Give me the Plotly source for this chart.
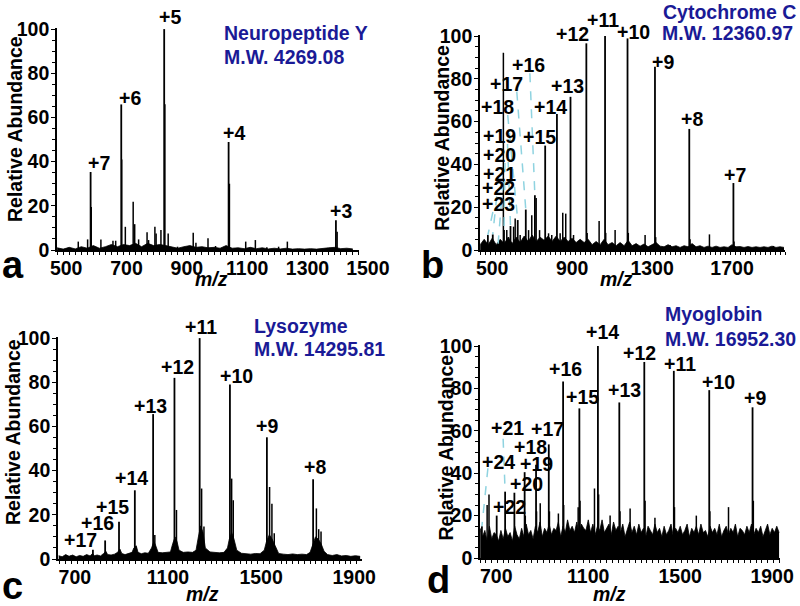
import plotly.graph_objects as go

FONT = "Liberation Sans, Arial, sans-serif"
W, H = 800, 606
BLUE = "#1a1a96"
DASH_COLOR = "#8fd3e0"

# ---------------- data ----------------
Y_TICKS = [0, 20, 40, 60, 80, 100]

# Panel a : Neuropeptide Y
A_NAME = "Neuropeptide Y"
A_MW = "M.W. 4269.08"
A_XTICKS = [500, 700, 900, 1100, 1300, 1500]
A_ION_MZ = [610.9, 712.5, 854.8, 1068.3, 1424.0]
A_ION_INT = [35.3, 65.9, 100.0, 48.9, 13.5]
A_ION_LABEL = ["+7", "+6", "+5", "+4", "+3"]
A_MINOR_MZ = [570, 601, 613, 645, 685, 694, 714, 726, 752, 757,
              770, 798, 803, 824, 828, 844, 857, 868, 899, 951,
              960, 1000, 1025, 1071, 1125, 1157, 1195, 1234, 1263, 1428]
A_MINOR_INT = [3.8, 4.8, 19.5, 4.8, 4.2, 4.2, 41.0, 10.5, 21.8, 11.7,
               4.8, 8.0, 4.5, 10.5, 7.5, 9.0, 66.0, 7.5, 1.5, 7.8,
               3.3, 5.3, 1.8, 30.0, 3.8, 4.5, 1.2, 1.5, 3.8, 8.3]
A_NOISE_MZ = [500, 520, 540, 560, 580, 600, 620, 640, 660, 680,
              700, 720, 740, 760, 780, 800, 820, 840, 860, 880,
              900, 920, 940, 960, 980, 1000, 1020, 1040, 1060, 1080,
              1100, 1120, 1140, 1160, 1180, 1200, 1220, 1240, 1260, 1280,
              1300, 1320, 1340, 1360, 1380, 1400, 1420, 1440, 1460, 1480]
A_NOISE_INT = [1.0, 0.4, 1.2, 0.5, 1.5, 0.8, 2.0, 0.8, 1.5, 2.5,
               1.5, 2.5, 2.0, 3.0, 1.5, 3.0, 2.0, 2.5, 2.0, 1.5,
               0.8, 1.5, 2.0, 1.2, 1.5, 1.0, 1.2, 0.8, 2.0, 0.8,
               1.0, 0.6, 1.2, 0.6, 1.0, 0.5, 0.8, 0.5, 0.8, 0.4,
               0.6, 0.4, 0.6, 0.4, 0.8, 1.0, 1.2, 0.6, 0.8, 0.5]

# Panel b : Cytochrome C
B_NAME = "Cytochrome C"
B_MW = "M.W. 12360.97"
B_XTICKS = [500, 900, 1300, 1700]
B_ION_MZ = [1766.9, 1546.1, 1374.4, 1237.1, 1124.7, 1031.1, 951.8, 883.9, 825.1,
            773.6, 728.1, 687.7, 651.6, 619.1, 589.6, 562.9, 538.4]
B_ION_INT = [31.3, 56.6, 85.7, 98.9, 100.0, 96.6, 71.6, 63.6, 48.8,
             25.6, 18.9, 14.0, 11.2, 9.3, 3.0, 7.3, 7.0]
B_ION_LABEL = ["+7", "+8", "+9", "+10", "+11", "+12", "+13", "+14", "+15",
               "+16", "+17", "+18", "+19", "+20", "+21", "+22", "+23"]
B_MINOR_MZ = [616.0, 633, 642, 667, 675, 700, 742, 758, 780, 797,
              842, 858, 900, 913, 928, 967, 1000, 1035, 1095, 1128,
              1175, 1241, 1325, 1378, 1450, 1550, 1647, 1770, 1967]
B_MINOR_INT = [92.2, 9.3, 6.0, 10.9, 14.7, 7.0, 9.3, 16.3, 24.3, 9.3,
               7.8, 7.0, 7.8, 17.4, 17.0, 7.0, 4.7, 8.0, 13.6, 8.0,
               9.3, 8.0, 7.0, 6.0, 2.3, 5.0, 7.3, 4.0, 1.9]
B_NOISE_MZ = [500, 520, 540, 560, 580, 600, 620, 640, 660, 680,
              700, 720, 740, 760, 780, 800, 820, 840, 860, 880,
              900, 920, 940, 960, 980, 1000, 1020, 1040, 1060, 1080,
              1100, 1120, 1140, 1160, 1180, 1200, 1220, 1240, 1260, 1280,
              1300, 1320, 1340, 1360, 1380, 1400, 1420, 1440, 1460, 1480,
              1500, 1520, 1540, 1560, 1580, 1600, 1620, 1640, 1660, 1680,
              1700, 1720, 1740, 1760, 1780, 1800, 1820, 1840, 1860, 1880,
              1900, 1920, 1940, 1960, 1980, 2000, 2020]
B_NOISE_INT = [2.5, 5.0, 2.5, 5.5, 2.5, 5.0, 3.0, 6.0, 3.0, 6.0,
               3.5, 6.5, 4.0, 7.0, 4.0, 6.0, 4.5, 6.5, 4.0, 6.5,
               4.0, 6.0, 4.0, 5.5, 3.5, 5.0, 3.5, 5.0, 2.5, 4.0,
               2.5, 5.0, 2.5, 3.5, 2.0, 3.5, 2.0, 4.5, 2.0, 3.0,
               1.8, 2.8, 1.5, 2.5, 3.5, 1.8, 1.5, 2.5, 1.5, 2.0,
               1.2, 2.0, 1.5, 3.0, 1.5, 2.0, 1.2, 1.8, 1.2, 1.8,
               1.2, 1.5, 1.2, 2.5, 1.5, 1.6, 1.2, 1.6, 1.2, 1.5,
               1.2, 1.5, 1.2, 1.8, 1.2, 1.5, 1.2]

# Panel c : Lysozyme
C_NAME = "Lysozyme"
C_MW = "M.W. 14295.81"
C_XTICKS = [700, 1100, 1500, 1900]
C_ION_MZ = [1788.0, 1589.4, 1430.6, 1300.6, 1192.3, 1100.7, 1022.1, 954.1, 894.5, 842.0]
C_ION_INT = [36.1, 55.1, 79.0, 100.0, 82.0, 65.6, 31.1, 16.9, 8.4, 4.2]
C_ION_LABEL = ["+8", "+9", "+10", "+11", "+12", "+13", "+14", "+15", "+16", "+17"]
C_MINOR_MZ = [1802, 1812, 1822, 1601, 1611, 1621, 1438, 1445, 1309, 1319,
              1201, 1108, 1027, 745, 790]
C_MINOR_INT = [22.9, 13.5, 12.4, 32.6, 25.0, 11.7, 36.4, 26.6, 31.9, 14.7,
               22.2, 10.9, 5.7, 1.5, 1.2]
C_NOISE_MZ = [695, 710, 725, 740, 755, 770, 785, 800, 815, 830,
              840, 848, 860, 875, 888, 898, 905, 920, 935, 948,
              958, 966, 980, 995, 1010, 1018, 1028, 1036, 1050, 1065,
              1080, 1094, 1104, 1112, 1122, 1140, 1160, 1175, 1185, 1195,
              1203, 1212, 1230, 1250, 1270, 1285, 1295, 1305, 1315, 1325,
              1345, 1365, 1385, 1405, 1420, 1428, 1438, 1448, 1460, 1480,
              1500, 1520, 1540, 1560, 1578, 1588, 1600, 1612, 1625, 1640,
              1660, 1680, 1700, 1720, 1740, 1760, 1775, 1785, 1798, 1810,
              1822, 1835, 1850, 1870, 1890, 1910, 1930, 1950, 1970, 1990]
C_NOISE_INT = [1.5, 1.0, 2.0, 1.2, 1.8, 1.0, 1.6, 1.2, 2.0, 1.4,
               2.5, 1.5, 1.8, 1.4, 2.5, 3.5, 2.0, 1.8, 2.2, 3.0,
               4.5, 2.5, 2.0, 2.4, 3.0, 5.0, 6.0, 3.0, 2.4, 2.8,
               2.6, 5.0, 8.0, 6.0, 3.0, 2.8, 3.0, 3.2, 7.0, 10.0,
               8.0, 4.0, 3.0, 3.2, 3.0, 4.0, 10.0, 15.0, 12.0, 5.0,
               3.2, 3.0, 2.8, 3.0, 5.0, 9.0, 12.0, 9.0, 4.0, 2.6,
               2.4, 2.2, 2.5, 2.4, 4.0, 8.0, 11.0, 9.0, 6.0, 2.5,
               2.2, 2.0, 2.3, 2.0, 2.2, 2.0, 3.0, 6.0, 10.0, 9.0,
               7.0, 3.5, 2.0, 1.6, 2.0, 1.4, 1.6, 1.2, 1.5, 1.2]

# Panel d : Myoglobin
D_NAME = "Myoglobin"
D_MW = "M.W. 16952.30"
D_XTICKS = [700, 1100, 1500, 1900]
D_ION_MZ = [1884.6, 1696.2, 1542.1, 1413.7, 1305.0, 1211.9, 1131.2, 1060.5,
            998.2, 942.8, 893.2, 848.6, 808.3, 771.6, 707.3]
D_ION_INT = [71.1, 79.2, 88.3, 92.5, 73.4, 100.0, 70.6, 83.3,
             53.6, 44.0, 40.5, 30.8, 31.3, 20.0, 15.0]
D_ION_LABEL = ["+9", "+10", "+11", "+12", "+13", "+14", "+15", "+16",
               "+17", "+18", "+19", "+20", "+21", "+22", "+24"]
D_MINOR_MZ = [730, 738.1, 961, 1040, 1126, 1197, 1265, 1352, 1460, 1640,
              1780, 1888, 1699, 1545, 1417, 1308, 1215, 1134, 1063, 1001,
              945, 896]
D_MINOR_INT = [25.0, 30.0, 25.8, 21.0, 24.0, 32.8, 20.0, 23.4, 19.0, 20.0,
               24.0, 27.0, 22.0, 24.0, 27.0, 22.0, 30.0, 27.0, 25.0, 22.0,
               22.0, 20.0]
D_NOISE_MZ = [700, 710, 720, 730, 740, 750, 760, 770, 780, 790,
              800, 810, 820, 830, 840, 850, 860, 870, 880, 890,
              900, 910, 920, 930, 940, 950, 960, 970, 980, 990,
              1000, 1010, 1020, 1030, 1040, 1050, 1060, 1070, 1080, 1090,
              1100, 1110, 1120, 1130, 1140, 1150, 1160, 1170, 1180, 1190,
              1200, 1210, 1220, 1230, 1240, 1250, 1260, 1270, 1280, 1290,
              1300, 1310, 1320, 1330, 1340, 1350, 1360, 1370, 1380, 1390,
              1400, 1410, 1420, 1430, 1440, 1450, 1460, 1470, 1480, 1490,
              1500, 1510, 1520, 1530, 1540, 1550, 1560, 1570, 1580, 1590,
              1600, 1610, 1620, 1630, 1640, 1650, 1660, 1670, 1680, 1690,
              1700, 1710, 1720, 1730, 1740, 1750, 1760, 1770, 1780, 1790,
              1800, 1810, 1820, 1830, 1840, 1850, 1860, 1870, 1880, 1890,
              1900, 1910, 1920, 1930, 1940, 1950, 1960, 1970, 1980, 1990,
              2000]
D_NOISE_INT = [14, 10, 13, 8, 15, 9, 12, 11, 8, 13,
               9, 14, 10, 12, 8, 15, 11, 9, 14, 10,
               16, 11, 13, 9, 15, 12, 17, 10, 14, 12,
               16, 11, 14, 13, 17, 10, 15, 12, 18, 13,
               15, 12, 17, 11, 16, 14, 13, 18, 12, 16,
               11, 15, 13, 18, 12, 14, 16, 11, 17, 13,
               15, 12, 16, 10, 14, 17, 12, 15, 11, 16,
               12, 14, 10, 15, 13, 11, 16, 12, 14, 10,
               15, 11, 13, 16, 10, 14, 12, 15, 11, 13,
               16, 10, 14, 12, 15, 11, 16, 12, 13, 10,
               15, 12, 14, 11, 16, 10, 13, 15, 11, 14,
               12, 16, 10, 14, 13, 11, 15, 12, 16, 11,
               14, 12, 15, 10, 13, 16, 11, 14, 12, 15,
               12]

# ---------------- layout of the four panels (pixels) ----------------
PANELS = [
    dict(name=A_NAME, mw=A_MW, xticks=A_XTICKS, ion_mz=A_ION_MZ, ion_int=A_ION_INT,
         ion_label=A_ION_LABEL, minor_mz=A_MINOR_MZ, minor_int=A_MINOR_INT,
         noise_mz=A_NOISE_MZ, noise_int=A_NOISE_INT, letter="a",
         box=(57, 359, 28, 250), xrange=(499.5, 1500.5), minor=20, tshift=9,
         lab_off=[(8, 9), (9, 6), (6, 12), (5, 9), (5, 9)], conn={},
         title_xy=[(222, 33.5), (222, 56.8)], letter_xy=(13, 265),
         xt_xy=(211.7, 279), yt_xy=(15, 129)),
    dict(name=B_NAME, mw=B_MW, xticks=B_XTICKS, ion_mz=B_ION_MZ, ion_int=B_ION_INT,
         ion_label=B_ION_LABEL, minor_mz=B_MINOR_MZ, minor_int=B_MINOR_INT,
         noise_mz=B_NOISE_MZ, noise_int=B_NOISE_INT, letter="b",
         box=(480, 785, 35, 250), xrange=(499, 2025), minor=25, tshift=12,
         lab_off=[(2, 8), (3, 10), (8, 5), (6, 6), (-2, 16), (-14, 9), (-3, 11), (-6, 7), (-6, 9),
                  (-6, 130), (-19, 126), (-20, 113), (-11, 90), (-5, 75), (1, 70), (6, 46), (11, 31)],
         conn={"+16": (1, 8), "+17": (10, 8), "+18": (10, 8), "+19": (8, 8),
               "+20": (6, 8), "+21": (4, 8), "+22": (-2, 8), "+23": (-6, 8)},
         title_xy=[(661, 11.8), (660, 33.5)], letter_xy=(432, 265),
         xt_xy=(616.7, 279), yt_xy=(441.7, 138)),
    dict(name=C_NAME, mw=C_MW, xticks=C_XTICKS, ion_mz=C_ION_MZ, ion_int=C_ION_INT,
         ion_label=C_ION_LABEL, minor_mz=C_MINOR_MZ, minor_int=C_MINOR_INT,
         noise_mz=C_NOISE_MZ, noise_int=C_NOISE_INT, letter="c",
         box=(58, 362, 337, 559), xrange=(692, 1998), minor=25, tshift=15,
         lab_off=[(2, 12), (0, 11), (7, 8), (1, 11), (3, 11), (-3, 8), (-3, 12), (-7, 15), (-8, 17), (-12, 10)],
         conn={},
         title_xy=[(251.7, 325.8), (251.7, 348.5)], letter_xy=(12.5, 586),
         xt_xy=(203, 594), yt_xy=(12.5, 432.5)),
    dict(name=D_NAME, mw=D_MW, xticks=D_XTICKS, ion_mz=D_ION_MZ, ion_int=D_ION_INT,
         ion_label=D_ION_LABEL, minor_mz=D_MINOR_MZ, minor_int=D_MINOR_INT,
         noise_mz=D_NOISE_MZ, noise_int=D_NOISE_INT, letter="d",
         box=(480, 780, 345, 558), xrange=(699, 2004), minor=25, tshift=16,
         lab_off=[(2, 9), (9, 8), (6, 7), (-5, 9), (5, 12), (5, 14), (3, 11), (2, 12),
                  (-1, 15), (-6, 18), (12, 8), (12, 9), (2, 64), (13, 9), (17, 64)],
         conn={"+21": (-4, 11), "+24": (-11, 6)},
         title_xy=[(663.3, 313.8), (663.3, 338.8)], letter_xy=(438.3, 580),
         xt_xy=(609, 594), yt_xy=(445, 447.5)),
]

Y_RANGE = (0, 100.5)


def sticks(mz, inten):
    xs, ys = [], []
    for m, h in zip(mz, inten):
        xs += [m, m, None]
        ys += [0, h, None]
    return xs, ys


fig = go.Figure()
annotations = []
layout_axes = {}

for i, p in enumerate(PANELS, start=1):
    xa = "x" if i == 1 else f"x{i}"
    ya = "y" if i == 1 else f"y{i}"
    x0, x1, ytop, ybot = p["box"]
    xr0, xr1 = p["xrange"]
    sx = (x1 - x0) / (xr1 - xr0)
    sy = (ybot - ytop) / (Y_RANGE[1] - Y_RANGE[0])

    # noise floor
    fig.add_trace(go.Scatter(x=p["noise_mz"], y=p["noise_int"], xaxis=xa, yaxis=ya,
                             mode="lines", fill="tozeroy", fillcolor="black",
                             line=dict(color="black", width=0.8), hoverinfo="skip"))
    # minor sticks
    mx, my = sticks(p["minor_mz"], p["minor_int"])
    fig.add_trace(go.Scatter(x=mx, y=my, xaxis=xa, yaxis=ya, mode="lines",
                             line=dict(color="black", width=1.5), hoverinfo="skip"))
    # labelled ion sticks
    ix, iy = sticks(p["ion_mz"], p["ion_int"])
    fig.add_trace(go.Scatter(x=ix, y=iy, xaxis=xa, yaxis=ya, mode="lines",
                             line=dict(color="black", width=1.8), hoverinfo="skip"))

    # labels + dashed connectors
    for m, h, lab, (dx, up) in zip(p["ion_mz"], p["ion_int"], p["ion_label"], p["lab_off"]):
        if lab in p["conn"]:
            cdx, cdy = p["conn"][lab]
            sx_data = m + (dx + cdx) / sx
            sy_data = h + (up - cdy) / sy
            fig.add_trace(go.Scatter(x=[sx_data, m], y=[sy_data, h], xaxis=xa, yaxis=ya,
                                     mode="lines", hoverinfo="skip",
                                     line=dict(color=DASH_COLOR, width=1.5, dash="dash")))
        annotations.append(dict(x=m, y=h, xref=xa, yref=ya, text=lab, showarrow=False,
                                xanchor="center", yanchor="middle", xshift=dx, yshift=up,
                                font=dict(family=FONT, size=19.5, color="black", weight="bold")))

    # axes
    xdom = [x0 / W, x1 / W]
    ydom = [1 - ybot / H, 1 - ytop / H]
    layout_axes["xaxis" if i == 1 else f"xaxis{i}"] = dict(
        domain=xdom, range=list(p["xrange"]), anchor=ya, automargin=False,
        tickmode="array", tickvals=p["xticks"], ticktext=[str(v) for v in p["xticks"]],
        ticks="outside", ticklen=3, tickwidth=1, tickcolor="black",
        minor=dict(tick0=p["xticks"][0], dtick=p["minor"], ticks="outside", ticklen=3,
                   tickwidth=1, tickcolor="black"),
        showline=True, linecolor="black", linewidth=1.6, showgrid=False, zeroline=False,
        ticklabelshift=p["tshift"], ticklabelstandoff=-3,
        tickfont=dict(family=FONT, size=19.5, color="black", weight="bold"),
    )
    layout_axes["yaxis" if i == 1 else f"yaxis{i}"] = dict(
        domain=ydom, range=list(Y_RANGE), anchor=xa, automargin=False,
        tickmode="array", tickvals=Y_TICKS,
        ticks="outside", ticklen=4, tickwidth=1.2, tickcolor="black",
        minor=dict(tick0=0, dtick=5, ticks="outside", ticklen=3, tickwidth=1, tickcolor="black"),
        showline=True, linecolor="black", linewidth=1.6, showgrid=False, zeroline=False,
        ticklabelstandoff=-2,
        tickfont=dict(family=FONT, size=19.5, color="black", weight="bold"),
    )

    # texts
    for txt, (tx, ty) in zip([p["name"], p["mw"]], p["title_xy"]):
        annotations.append(dict(x=tx / W, y=1 - ty / H, xref="paper", yref="paper", text=txt,
                                showarrow=False, xanchor="left", yanchor="middle",
                                font=dict(family=FONT, size=19.5, color=BLUE, weight="bold")))
    lx, ly = p["letter_xy"]
    annotations.append(dict(x=lx / W, y=1 - ly / H, xref="paper", yref="paper", text=p["letter"],
                            showarrow=False, xanchor="center", yanchor="middle",
                            font=dict(family=FONT, size=38, color="black", weight="bold")))
    tx, ty = p["xt_xy"]
    annotations.append(dict(x=tx / W, y=1 - ty / H, xref="paper", yref="paper",
                            text="<i>m/z</i>", showarrow=False, xanchor="center", yanchor="middle",
                            font=dict(family=FONT, size=19.5, color="black", weight="bold")))
    tx, ty = p["yt_xy"]
    annotations.append(dict(x=tx / W, y=1 - ty / H, xref="paper", yref="paper",
                            text="Relative Abundance", textangle=-90, showarrow=False,
                            xanchor="center", yanchor="middle",
                            font=dict(family=FONT, size=19.5, color="black", weight="bold")))

fig.update_layout(
    template="none",
    width=W, height=H, margin=dict(l=0, r=0, t=0, b=0, pad=0),
    paper_bgcolor="white", plot_bgcolor="white", showlegend=False,
    annotations=annotations, **layout_axes,
)

fig.write_html("out.html", config={"displayModeBar": False},
               post_script="document.body.style.margin='0px';")
